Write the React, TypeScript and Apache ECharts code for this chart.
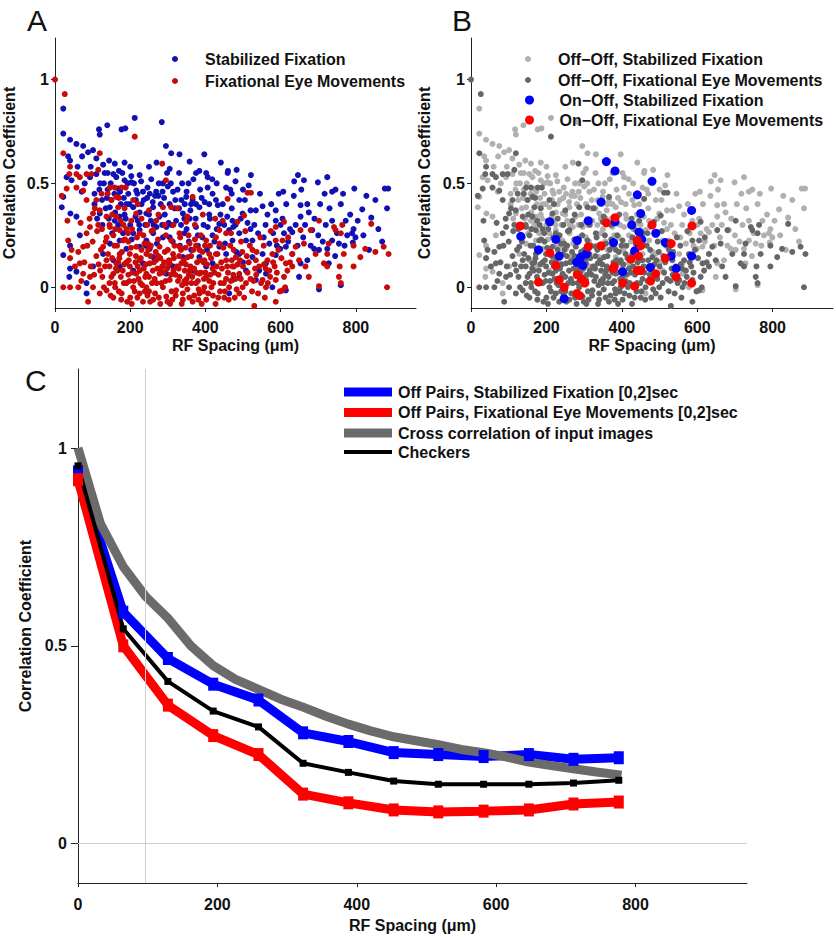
import React, { useEffect, useRef } from 'react';
import * as echarts from 'echarts';

const FONT = '"Liberation Sans", Arial, Helvetica, sans-serif';
const TEXT = '#111111';

// ---------- Panel A / B: scatter data (RF spacing µm, correlation) ----------
const stabilizedFixation: [number, number][] = [
  [22,0.86],[22,0.74],[40,0.71],[35,0.63],[40,0.61],[57,0.69],[75,0.68],[72,0.63],[88,0.65],[101,0.66],[117,0.76],[119,0.735],[139,0.78],[177,0.76],[187,0.765],[212,0.815],[284,0.795],[295,0.68],[309,0.645],[331,0.64],[397,0.64],[441,0.6],[358,0.605],[384,0.56],[402,0.55],[406,0.53],[459,0.55],[483,0.565],[480,0.51],[521,0.54],[505,0.42],[534,0.37],[552,0.39],[587,0.37],[607,0.46],[636,0.51],[646,0.54],[662,0.515],[653,0.395],[671,0.40],[699,0.505],[724,0.53],[717,0.45],[737,0.46],[746,0.47],[766,0.45],[796,0.475],[817,0.375],[828,0.44],[852,0.42],[877,0.475],[886,0.475],[883,0.38],[841,0.335],[773,0.32],[737,0.32],[794,0.28],[777,0.25],[799,0.24],[755,0.21],[728,0.115],[702,0.18],[689,0.185],[671,0.13],[653,0.115],[631,0.16],[614,0.195],[599,0.185],[587,0.155],[561,0.115],[543,0.08],[525,0.145],[508,0.225],[490,0.26],[472,0.225],[455,0.16],[437,0.195],[419,0.25],[406,0.29],[437,0.305],[463,0.275],[472,0.32],[499,0.355],[490,0.42],[428,0.42],[433,0.395],[419,0.45],[406,0.48],[384,0.385],[366,0.42],[349,0.435],[336,0.42],[314,0.46],[300,0.485],[287,0.5],[269,0.46],[252,0.45],[234,0.46],[216,0.465],[203,0.505],[203,0.535],[185,0.515],[168,0.475],[155,0.545],[159,0.595],[144,0.61],[128,0.59],[110,0.545],[93,0.53],[79,0.5],[71,0.46],[44,0.515],[31,0.53],[22,0.435],[18,0.385],[41,0.355],[57,0.34],[66,0.25],[40,0.2],[22,0.155],[40,0.09],[38,0.05],[57,0.075],[84,-0.03],[146,0.21],[119,0.355],[146,0.385],[159,0.32],[172,0.34],[190,0.4],[208,0.385],[225,0.36],[243,0.355],[261,0.385],[278,0.34],[296,0.29],[305,0.24],[287,0.24],[261,0.26],[243,0.225],[225,0.275],[208,0.26],[181,0.26],[172,0.225],[190,0.185],[225,0.195],[252,0.185],[322,0.32],[340,0.355],[358,0.33],[375,0.29],[344,0.26],[362,0.18],[384,0.145],[402,0.1],[419,0.115],[366,0.08],[340,0.145],[314,0.1],[296,0.065],[261,0.145],[234,0.115],[208,0.08],[172,0.1],[155,0.13],[128,0.16],[101,0.1],[84,0.02],[472,0.035],[490,0.05],[508,0.08],[463,-0.03],[534,0.035],[561,0.065],[578,0.0],[614,-0.015],[649,0.05],[702,-0.01],[760,0.01],[724,0.185],[737,0.225],[792,0.215],[790,0.26],[684,0.275],[653,0.34],[631,0.265],[609,0.26],[587,0.32],[570,0.21],[552,0.16],[525,0.225],[490,0.16],
  [130,0.5],[140,0.47],[150,0.42],[165,0.44],[175,0.4],[195,0.45],[215,0.42],[230,0.4],[245,0.43],[260,0.41],[275,0.44],[290,0.43],[305,0.4],[320,0.42],[330,0.38],[345,0.4],[360,0.37],[375,0.4],[390,0.43],[410,0.4],[125,0.42],[135,0.38],[160,0.36],[185,0.35],[200,0.3],[220,0.32],[240,0.3],[255,0.32],[270,0.29],[285,0.3],[310,0.3],[335,0.3],[350,0.28],[380,0.25],[395,0.3],[410,0.35],[440,0.35],[450,0.3],[470,0.38],[480,0.3],[140,0.55],[170,0.56],[185,0.6],[200,0.58],[225,0.54],[110,0.62],[95,0.58],[60,0.58],[120,0.5],[105,0.45],
  [105,0.4],[112,0.33],[118,0.47],[126,0.3],[132,0.55],[138,0.43],[143,0.33],[148,0.5],[152,0.26],[158,0.45],[163,0.53],[168,0.3],[173,0.46],[179,0.55],[183,0.43],[188,0.33],[193,0.5],[198,0.4],[204,0.23],[210,0.5],[214,0.34],[219,0.45],[224,0.3],[229,0.51],[236,0.42],[241,0.2],[246,0.48],[250,0.35],[256,0.52],[262,0.3],[266,0.44],[271,0.21],[276,0.5],[281,0.4],[286,0.46],[292,0.35],[298,0.55],[302,0.31],[308,0.5],[313,0.22],[318,0.38],[326,0.47],[332,0.2],[338,0.5],[344,0.33],[350,0.46],[356,0.22],[362,0.4],[368,0.52],[374,0.33],[380,0.2],[386,0.47],[392,0.24],[398,0.41],[404,0.18],[412,0.33],[418,0.52],[424,0.22],[430,0.28],[446,0.4],[452,0.21],[458,0.34],[466,0.47],[474,0.29],[482,0.17],[494,0.33],[500,0.12],[512,0.31],[520,0.28],[540,0.26],[560,0.3],[580,0.26],[600,0.3],[620,0.22],[640,0.3],[660,0.24],[680,0.2],[700,0.25],[720,0.3],[750,0.26],
  [520,0.37],[530,0.3],[545,0.45],[555,0.24],[565,0.35],[575,0.4],[590,0.2],[595,0.45],[605,0.33],[615,0.4],[625,0.28],[635,0.44],[645,0.2],[655,0.47],[665,0.3],[675,0.36],[690,0.33],[705,0.4],[712,0.22],[730,0.38],[745,0.15],[760,0.4],[770,0.2],[785,0.35],[805,0.32],[820,0.25],[835,0.18],[860,0.28],[870,0.22],[430,0.5],[455,0.48],[470,0.45],[500,0.47],[515,0.49],[460,0.56],[330,0.55],[355,0.5],[375,0.55],[250,0.58],[270,0.6],[305,0.57]
];

const fixationalEyeMovements: [number, number][] = [
  [0,1.0],[26,0.93],[22,0.645],[18,0.44],[40,0.58],[38,0.545],[31,0.475],[33,0.32],[35,0.225],[44,0.18],[40,0.14],[53,0.1],[22,0.0],[40,0.0],[62,0.0],[88,-0.07],[57,0.545],[57,0.48],[75,0.465],[84,0.42],[66,0.53],[84,0.545],[97,0.545],[115,0.565],[119,0.645],[110,0.42],[124,0.45],[119,0.37],[101,0.355],[93,0.29],[84,0.26],[75,0.195],[66,0.115],[75,0.065],[93,0.05],[101,0.0],[119,-0.03],[137,-0.015],[137,0.13],[128,0.195],[137,0.24],[146,0.29],[137,0.34],[150,0.42],[146,0.48],[159,0.48],[163,0.435],[177,0.48],[188,0.48],[212,0.725],[168,0.385],[163,0.34],[172,0.275],[181,0.225],[172,0.16],[163,0.115],[155,0.065],[159,0.02],[177,-0.03],[190,0.02],[199,0.1],[199,0.16],[194,0.26],[203,0.32],[216,0.355],[208,0.42],[225,0.26],[216,0.195],[225,0.13],[216,0.065],[208,0.0],[225,-0.03],[243,0.0],[234,-0.07],[261,-0.06],[243,0.065],[252,0.115],[243,0.16],[247,0.21],[261,0.275],[269,0.32],[287,0.385],[285,0.595],[295,0.515],[278,0.195],[269,0.13],[278,0.065],[287,0.0],[296,-0.045],[305,0.035],[305,0.115],[314,0.16],[309,0.225],[309,0.385],[331,0.26],[331,0.195],[336,0.115],[331,0.05],[322,-0.015],[340,-0.03],[349,0.02],[358,0.08],[353,0.145],[358,0.21],[349,0.315],[366,0.435],[384,0.065],[375,0.02],[384,-0.03],[402,-0.06],[397,0.0],[402,0.05],[397,0.13],[384,0.18],[388,0.25],[402,0.225],[410,0.16],[419,0.09],[428,0.16],[437,0.21],[437,0.275],[446,0.32],[455,0.26],[459,0.425],[455,0.13],[472,0.1],[463,0.0],[490,-0.03],[499,0.0],[508,0.02],[490,0.065],[481,0.145],[485,0.315],[503,0.345],[512,0.455],[521,0.455],[525,0.18],[534,0.13],[543,0.1],[530,-0.09],[552,0.035],[561,0.0],[570,0.08],[578,0.16],[587,0.225],[605,0.225],[587,0.29],[587,0.035],[587,-0.07],[605,-0.015],[609,0.05],[614,0.115],[609,0.315],[631,0.16],[631,0.1],[640,0.195],[649,0.13],[653,0.275],[662,0.21],[666,0.1],[675,0.05],[680,0.275],[693,0.16],[702,0.32],[702,0.005],[715,0.115],[724,0.16],[728,0.21],[746,0.275],[742,0.29],[764,0.3],[757,0.1],[755,0.05],[760,0.02],[768,0.16],[794,0.2],[794,0.1],[812,0.145],[825,0.185],[841,0.305],[852,0.17],[874,0.195],[887,0.16],[883,0.0],[760,0.26],[724,0.1],
  [150,0.05],[160,0.0],[170,-0.02],[180,0.08],[190,0.12],[200,-0.05],[210,0.03],[220,0.1],[230,0.18],[240,0.05],[250,-0.02],[260,0.08],[270,0.02],[280,-0.08],[290,0.12],[300,0.18],[310,-0.02],[320,0.06],[330,0.15],[340,-0.06],[350,0.04],[360,0.1],[370,-0.04],[380,0.03],[390,-0.08],[400,0.07],[410,0.03],[420,-0.04],[430,0.1],[440,0.02],[450,-0.05],[460,0.07],[470,0.13],[480,0.04],[500,0.1],[520,0.04],[540,-0.03],[560,0.09],[580,0.12],[125,0.28],[135,0.22],[145,0.3],[155,0.25],[165,0.2],[175,0.32],[185,0.38],[195,0.22],[205,0.28],[215,0.15],[235,0.25],[255,0.2],[275,0.15],[295,0.25],[315,0.3],[335,0.18],[355,0.25],[375,0.2],[120,0.08],[130,0.0],[110,0.15],[100,0.22],[145,0.1],[175,0.05],[195,0.06],[225,0.08],[265,0.04],[285,0.1],[315,0.08],[345,0.08],[365,0.05],[395,0.12],[415,0.14],[435,0.06],[455,0.04],[475,0.18],[495,0.22],[515,0.12],[535,0.06],[555,0.2],[565,0.13],
  [62,0.17],[70,0.03],[78,0.12],[86,0.2],[95,0.1],[104,0.06],[112,0.27],[116,0.11],[92,0.33],[106,0.38],[115,0.3],[68,0.31],
  [122,0.18],[126,0.05],[133,0.1],[141,0.16],[148,-0.04],[152,0.14],[158,0.2],[166,0.08],[168,0.12],[178,0.17],[183,0.02],[186,0.23],[192,-0.07],[196,0.13],[152,0.35],[170,0.43],[182,0.3],[140,0.45],[160,0.28],[190,0.28],
  [202,0.19],[206,0.07],[212,-0.02],[218,0.24],[222,0.04],[228,0.14],[232,0.01],[238,0.21],[241,0.11],[246,-0.04],[250,0.05],[254,0.15],[257,0.27],[263,0.12],[266,-0.03],[272,0.09],[274,0.23],[280,0.14],[283,0.02],[289,0.07],[292,0.17],[298,0.09],[299,-0.07],[230,0.33],[250,0.37],[275,0.35],[220,0.4],[245,0.3],[292,0.3],
  [303,0.13],[308,0.06],[312,-0.06],[318,0.2],[324,0.1],[327,0.03],[333,0.24],[338,0.01],[342,0.13],[347,0.19],[352,-0.01],[356,0.06],[362,0.15],[366,-0.07],[370,0.09],[372,0.23],[378,0.12],[382,-0.01],[388,0.07],[392,0.17],[396,0.04],[352,0.34],[372,0.3],[393,0.35],[325,0.38],
  [404,0.11],[412,0.2],[416,0.0],[424,0.07],[428,0.24],[434,-0.05],[442,0.12],[448,0.19],[452,-0.02],[458,0.1],[466,0.2],[474,0.06],[478,-0.05],[486,0.11],[494,0.04],[498,0.17],[426,0.33],[468,0.26],
  [506,0.27],[512,0.07],[518,0.2],[528,0.03],[536,0.17],[546,0.24],[556,0.11],[566,0.02],[574,0.27],[584,0.1],[594,0.18],[602,0.14],[612,0.0],[620,0.24],
  [145,0.02],[155,-0.05],[162,0.09],[171,0.14],[176,-0.06],[184,0.11],[198,0.03],[204,-0.08],[214,0.12],[219,-0.05],[227,0.02],[236,0.09],[239,-0.02],[248,0.18],[253,-0.07],[258,0.02],[268,0.17],[276,-0.05],[282,0.08],[294,0.03],[301,0.1],[306,-0.08],[316,0.14],[321,-0.04],[329,0.09],[337,-0.08],[344,0.03],[348,0.11],[357,-0.05],[363,0.02],[368,0.18],[376,0.07],[381,-0.06],[386,0.13],[394,-0.02],[399,0.2],[407,-0.03],[413,0.06],[421,0.02],[427,-0.08],[432,0.16],[439,-0.02],[444,0.09],[449,0.02],[462,-0.06],[468,0.03],[476,0.1],[483,-0.01],[492,0.13],[503,-0.05],[510,0.15],[524,-0.02],[532,0.09],[548,0.02],[558,-0.05],[572,0.05],[590,0.07],[598,-0.02],[618,0.08],[625,0.12]
];

const onOffStabilized: [number, number][] = [
  [359,0.605],[382,0.56],[480,0.51],[441,0.445],[345,0.41],[450,0.355],[585,0.37],[311,0.32],[209,0.315],[382,0.315],[426,0.3],[132,0.245],[225,0.23],[282,0.225],[446,0.265],[490,0.26],[378,0.215],[515,0.215],[453,0.23],[446,0.205],[434,0.175],[179,0.18],[234,0.15],[531,0.15],[585,0.15],[291,0.145],[306,0.16],[287,0.125],[296,0.105],[280,0.12],[476,0.095],[544,0.09],[402,0.075],[247,-0.055]
];

const onOffFixational: [number, number][] = [
  [382,0.335],[131,0.295],[359,0.31],[480,0.3],[586,0.295],[311,0.195],[345,0.2],[441,0.225],[450,0.2],[531,0.21],[209,0.165],[424,0.135],[444,0.15],[515,0.14],[225,0.105],[380,0.1],[377,0.09],[441,0.08],[450,0.08],[490,0.065],[544,0.05],[179,0.025],[234,0.035],[282,0.06],[293,0.04],[302,0.02],[476,0.03],[247,0.0],[402,0.02],[434,0.005],[585,0.02],[281,-0.03],[288,-0.04]
];

// ---------- Panel C: averaged curves ----------
const pairSpacing = [0, 65, 129, 194, 259, 323, 388, 453, 517, 582, 647, 711, 776];
const offStabilized = [0.94, 0.585, 0.468, 0.403, 0.363, 0.28, 0.258, 0.23, 0.225, 0.22, 0.225, 0.213, 0.217];
const offFixational = [0.92, 0.50, 0.35, 0.273, 0.225, 0.125, 0.103, 0.085, 0.08, 0.082, 0.085, 0.10, 0.105];
const checkers = [0.955, 0.543, 0.41, 0.335, 0.295, 0.203, 0.18, 0.158, 0.15, 0.15, 0.15, 0.153, 0.16];

const imageSpacing = [0, 32, 65, 97, 129, 162, 194, 226, 259, 291, 323, 356, 388, 420, 453, 485, 517, 550, 582, 614, 647, 679, 711, 744, 780];
const imageCrossCorr = [1.0, 0.81, 0.70, 0.625, 0.57, 0.50, 0.45, 0.415, 0.39, 0.365, 0.345, 0.322, 0.302, 0.285, 0.27, 0.26, 0.25, 0.238, 0.23, 0.219, 0.206, 0.197, 0.189, 0.181, 0.173];

const referenceSpacing = 96;

const xTicks = [0, 200, 400, 600, 800];
const yTicks = [0, 0.5, 1];

const zip = (xs: number[], ys: number[]) => xs.map((x, i) => [x, ys[i]]);

const bold = { fontFamily: FONT, fontWeight: 'bold' as const, fontSize: 16, color: TEXT };

function xAxisDef(gridIndex: number, nameGap: number, margin: number) {
  return {
    type: 'value', gridIndex, min: 0, max: 960,
    name: 'RF Spacing (μm)', nameLocation: 'middle', nameGap,
    nameTextStyle: { ...bold },
    axisLine: { show: true, onZero: false, lineStyle: { color: '#222', width: 1 } },
    axisTick: { show: true, inside: false, length: 4, customValues: xTicks, lineStyle: { color: '#222' } },
    axisLabel: { customValues: xTicks, margin, ...bold },
    splitLine: { show: false },
  };
}
function yAxisDef(gridIndex: number, nameGap: number, margin: number, tickLen: number) {
  return {
    type: 'value', gridIndex, min: -0.1, max: 1.2,
    name: 'Correlation Coefficient', nameLocation: 'middle', nameGap,
    nameTextStyle: { ...bold },
    axisLine: { show: true, onZero: false, lineStyle: { color: '#222', width: 1 } },
    axisTick: { show: true, inside: false, length: tickLen, customValues: yTicks, lineStyle: { color: '#222' } },
    axisLabel: { customValues: yTicks, margin, ...bold },
    splitLine: { show: false },
  };
}

const legendText = { ...bold };

export default function App() {
  const ref = useRef<HTMLDivElement>(null);
  useEffect(() => {
    const chart = echarts.init(ref.current!, null, { renderer: 'svg' });
    const option: any = {
      animation: false,
      backgroundColor: '#ffffff',
      grid: [
        { left: 55, right: 420, top: 38, bottom: 630 },
        { left: 471, right: 3, top: 38, bottom: 630 },
        { left: 78, right: 89, top: 369, bottom: 52 },
      ],
      xAxis: [xAxisDef(0, 29, 11), xAxisDef(1, 29, 11), xAxisDef(2, 33, 13)],
      yAxis: [yAxisDef(0, 38, 6, 4), yAxisDef(1, 39, 6, 4), yAxisDef(2, 41, 11, 7)],
      legend: [
        {
          data: ['Stabilized Fixation', 'Fixational Eye Movements'],
          orient: 'vertical', left: 167, top: 46, itemWidth: 30, itemHeight: 6, itemGap: 6,
          icon: 'circle', textStyle: { ...legendText, padding: [0, 0, 0, 10] },
        },
        {
          data: ['Off−Off, Stabilized Fixation', 'Off−Off, Fixational Eye Movements'],
          orient: 'vertical', left: 520, top: 46, itemWidth: 30, itemHeight: 6, itemGap: 5,
          icon: 'circle', textStyle: { ...legendText, padding: [0, 0, 0, 10] },
        },
        {
          data: ['On−Off, Stabilized Fixation', 'On−Off, Fixational Eye Movements'],
          orient: 'vertical', left: 520, top: 87, itemWidth: 30, itemHeight: 9, itemGap: 4,
          icon: 'circle', textStyle: { ...legendText, padding: [0, 0, 0, 10] },
        },
        {
          data: ['Off Pairs, Stabilized Fixation [0,2]sec', 'Off Pairs, Fixational Eye Movements [0,2]sec', 'Cross correlation of input images'],
          orient: 'vertical', left: 339, top: 379, itemWidth: 48, itemHeight: 9, itemGap: 4.5,
          icon: 'rect', textStyle: { ...legendText, padding: [0, 0, 0, 1] },
        },
        {
          data: ['Checkers'],
          orient: 'vertical', left: 339, top: 439, itemWidth: 48, itemHeight: 4,
          icon: 'rect', textStyle: { ...legendText, padding: [0, 0, 0, 1] },
        },
      ],
      graphic: [
        { type: 'text', left: 27, top: 5, style: { text: 'A', fontFamily: FONT, fontSize: 30, fill: TEXT } },
        { type: 'text', left: 452, top: 5, style: { text: 'B', fontFamily: FONT, fontSize: 30, fill: TEXT } },
        { type: 'text', left: 25, top: 365, style: { text: 'C', fontFamily: FONT, fontSize: 30, fill: TEXT } },
      ],
      series: [
        // Panel A
        { name: 'Stabilized Fixation', type: 'scatter', xAxisIndex: 0, yAxisIndex: 0, data: stabilizedFixation,
          symbolSize: 6, itemStyle: { color: '#1010b4', opacity: 1 } },
        { name: 'Fixational Eye Movements', type: 'scatter', xAxisIndex: 0, yAxisIndex: 0, data: fixationalEyeMovements,
          symbolSize: 6, itemStyle: { color: '#c80a0a', opacity: 1 } },
        // Panel B
        { name: 'Off−Off, Stabilized Fixation', type: 'scatter', xAxisIndex: 1, yAxisIndex: 1, data: stabilizedFixation,
          symbolSize: 6, itemStyle: { color: '#b0b0b0', opacity: 1 } },
        { name: 'Off−Off, Fixational Eye Movements', type: 'scatter', xAxisIndex: 1, yAxisIndex: 1, data: fixationalEyeMovements,
          symbolSize: 6, itemStyle: { color: '#666666', opacity: 1 } },
        { name: 'On−Off, Stabilized Fixation', type: 'scatter', xAxisIndex: 1, yAxisIndex: 1, data: onOffStabilized,
          symbolSize: 9, itemStyle: { color: '#0000ff', opacity: 1 } },
        { name: 'On−Off, Fixational Eye Movements', type: 'scatter', xAxisIndex: 1, yAxisIndex: 1, data: onOffFixational,
          symbolSize: 9, itemStyle: { color: '#ff0000', opacity: 1 } },
        // Panel C reference lines
        { name: 'ref', type: 'line', xAxisIndex: 2, yAxisIndex: 2, data: [], z: 0,
          markLine: { silent: true, symbol: 'none', label: { show: false },
            lineStyle: { color: '#cfcfcf', width: 1, type: 'solid' },
            data: [{ xAxis: referenceSpacing }, { yAxis: 0 }] } },
        { name: 'Off Pairs, Stabilized Fixation [0,2]sec', type: 'line', xAxisIndex: 2, yAxisIndex: 2,
          data: zip(pairSpacing, offStabilized), color: '#0000ff',
          lineStyle: { width: 9, color: '#0000ff' }, symbol: 'rect', symbolSize: [10, 13],
          itemStyle: { color: '#0000ff' } },
        { name: 'Off Pairs, Fixational Eye Movements [0,2]sec', type: 'line', xAxisIndex: 2, yAxisIndex: 2,
          data: zip(pairSpacing, offFixational), color: '#ff0000',
          lineStyle: { width: 9, color: '#ff0000' }, symbol: 'rect', symbolSize: [10, 13],
          itemStyle: { color: '#ff0000' } },
        { name: 'Cross correlation of input images', type: 'line', xAxisIndex: 2, yAxisIndex: 2,
          data: zip(imageSpacing, imageCrossCorr), color: '#6b6b6b', showSymbol: false, symbol: 'none',
          lineStyle: { width: 9, color: '#6b6b6b' } },
        { name: 'Checkers', type: 'line', xAxisIndex: 2, yAxisIndex: 2,
          data: zip(pairSpacing, checkers), color: '#000000',
          lineStyle: { width: 4, color: '#000000' }, symbol: 'rect', symbolSize: 7,
          itemStyle: { color: '#000000' } },
      ],
    };
    chart.setOption(option);
    return () => chart.dispose();
  }, []);
  return (
    <div
      ref={ref}
      style={{ position: 'absolute', left: 0, top: 0, width: 836, height: 938, background: '#ffffff' }}
    />
  );
}
